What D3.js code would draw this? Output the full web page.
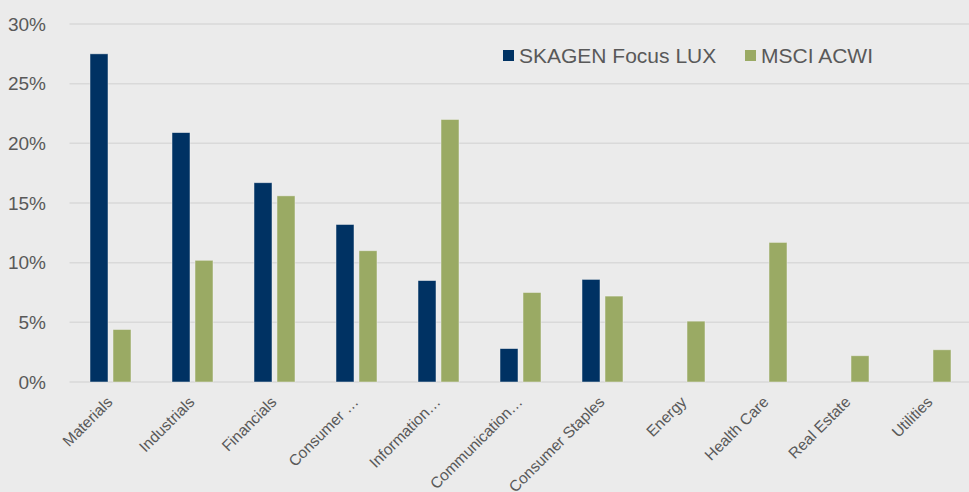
<!DOCTYPE html>
<html>
<head>
    <script src="https://d3js.org/d3.v7.min.js"></script>
    <style>
        body {
            margin: 0;
            background-color: #ebebeb;
        }

        svg text {
            font-family: 'Liberation Sans', Arial, sans-serif;
        }
    </style>
</head>

<body>
    <svg id="chart" width="969" height="492"></svg>
    <script>
        // sector weights, in percent
        var sectors = ['Materials', 'Industrials', 'Financials', 'Consumer \u2026', 'Information\u2026',
            'Communication\u2026', 'Consumer Staples', 'Energy', 'Health Care', 'Real Estate', 'Utilities'];
        var fundValues = [27.5, 20.9, 16.7, 13.2, 8.5, 2.8, 8.6, null, null, null, null];
        var indexValues = [4.4, 10.2, 15.6, 11.0, 22.0, 7.5, 7.2, 5.1, 11.7, 2.2, 2.7];
        var seriesNames = ['SKAGEN Focus LUX', 'MSCI ACWI'];
        var yTicks = [0, 5, 10, 15, 20, 25, 30];

        var colors = ['#003263', '#9aaa64'];
        var svg = d3.select('#chart');
        var width = 969;
        var plotLeft = 69.5;
        var plotTop = 24;
        var plotBottom = 382;

        var x = d3.scaleBand().domain(sectors).range([plotLeft, plotLeft + 82 * sectors.length]).padding(0);
        var y = d3.scaleLinear().domain([0, 30]).range([plotBottom, plotTop]);

        svg.append('rect')
            .attr('width', width).attr('height', 492)
            .attr('fill', '#ebebeb');

        // gridlines
        svg.append('g')
            .selectAll('line')
            .data(yTicks)
            .join('line')
            .attr('x1', plotLeft).attr('x2', width)
            .attr('y1', function (d) { return y(d); })
            .attr('y2', function (d) { return y(d); })
            .attr('stroke', '#d9d9d9')
            .attr('stroke-width', 1.5);

        // y axis labels
        var yAxis = d3.axisLeft(y).tickValues(yTicks).tickSize(0).tickPadding(0)
            .tickFormat(function (d) { return d + '%'; });
        var gy = svg.append('g')
            .attr('transform', 'translate(46,0)')
            .call(yAxis);
        gy.select('.domain').remove();
        gy.selectAll('text')
            .attr('fill', '#595959')
            .style('font-size', '19px')
            .style('font-family', "'Liberation Sans', Arial, sans-serif");

        // bars
        var data = sectors.map(function (s, i) {
            return { sector: s, values: [fundValues[i], indexValues[i]] };
        });
        var groups = svg.append('g')
            .selectAll('g')
            .data(data)
            .join('g')
            .attr('transform', function (d) { return 'translate(' + (x(d.sector) + x.bandwidth() / 2) + ',0)'; });

        groups.selectAll('rect')
            .data(function (d) {
                return d.values.map(function (v, k) { return { v: v, k: k }; })
                    .filter(function (e) { return e.v !== null; });
            })
            .join('rect')
            .attr('x', function (d) { return d.k === 0 ? -20.5 : 2.5; })
            .attr('y', function (d) { return y(d.v); })
            .attr('width', 18)
            .attr('height', function (d) { return plotBottom - y(d.v); })
            .attr('fill', function (d) { return colors[d.k]; })
            .attr('stroke', '#f2f2f2')
            .attr('stroke-opacity', 0.6)
            .attr('stroke-width', 0.8);

        // category labels
        var xAxis = d3.axisBottom(x).tickSize(0).tickPadding(0);
        var gx = svg.append('g')
            .attr('transform', 'translate(0,' + (plotBottom + 21) + ')')
            .call(xAxis);
        gx.select('.domain').remove();
        gx.selectAll('text')
            .attr('fill', '#595959')
            .attr('dy', 0)
            .attr('y', 0)
            .attr('x', 3)
            .attr('text-anchor', 'end')
            .attr('transform', 'rotate(-45,3,0)')
            .style('font-size', '15.5px')
            .style('font-family', "'Liberation Sans', Arial, sans-serif");

        // legend
        var legendX = [503, 745];
        var legend = svg.append('g')
            .selectAll('g')
            .data(seriesNames)
            .join('g')
            .attr('transform', function (d, i) { return 'translate(' + legendX[i] + ',50)'; });
        legend.append('rect')
            .attr('width', 11).attr('height', 11)
            .attr('fill', function (d, i) { return colors[i]; });
        legend.append('text')
            .attr('x', 16)
            .attr('y', 13)
            .attr('fill', '#595959')
            .style('font-size', '21px')
            .text(function (d) { return d; });
    </script>
</body>
</html>
